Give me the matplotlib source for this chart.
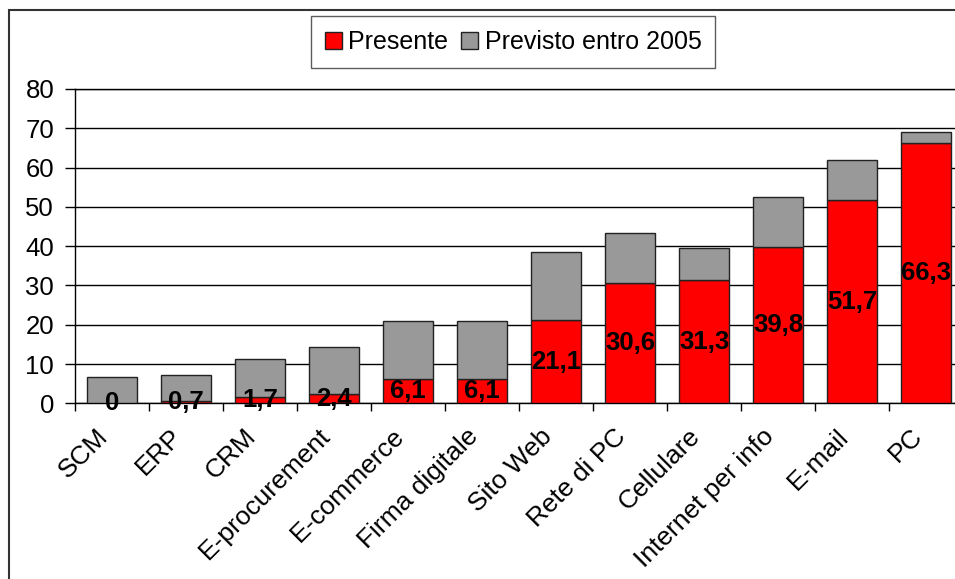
import matplotlib.pyplot as plt
import numpy as np
from matplotlib.patches import Rectangle
from matplotlib.transforms import ScaledTranslation

plt.rcParams['font.family'] = ['Liberation Sans', 'DejaVu Sans']

# dati
categorie = ["SCM", "ERP", "CRM", "E-procurement", "E-commerce", "Firma digitale",
             "Sito Web", "Rete di PC", "Cellulare", "Internet per info", "E-mail", "PC"]
presente = [0, 0.7, 1.7, 2.4, 6.1, 6.1, 21.1, 30.6, 31.3, 39.8, 51.7, 66.3]
previsto = [6.6, 6.5, 9.7, 12.0, 14.9, 14.9, 17.4, 12.7, 8.3, 12.6, 10.3, 2.8]
etichette = ["0", "0,7", "1,7", "2,4", "6,1", "6,1", "21,1", "30,6", "31,3", "39,8", "51,7", "66,3"]

fig = plt.figure(figsize=(9.55, 5.79), dpi=100)
# bordo esterno del grafico
fig.patches.append(Rectangle((9 / 955, -0.1), 1.2, (579 - 10) / 579 + 0.1,
                             transform=fig.transFigure, fill=False,
                             edgecolor='#333333', linewidth=1.5))

ax = fig.add_axes([75 / 955, 175.7 / 579, 888 / 955, 314.3 / 579])
x = np.arange(len(categorie))
w = 0.68
ax.bar(x, presente, w, color='#ff0000', edgecolor='#222222', linewidth=1, label='Presente', zorder=3)
ax.bar(x, previsto, w, bottom=presente, color='#999999', edgecolor='#222222', linewidth=1,
       label='Previsto entro 2005', zorder=3)

for i in range(len(x)):
    ax.text(x[i], presente[i] / 2, etichette[i], ha='center', va='center',
            fontsize=18.5, fontweight='bold', color='black', zorder=4)

ax.set_xlim(-0.5, len(x) - 0.5)
ax.set_ylim(0, 80)
ax.set_yticks(range(0, 81, 10))
ax.yaxis.grid(True, color='black', linewidth=1)
ax.set_axisbelow(True)
ax.tick_params(axis='y', labelsize=18.5, length=7, width=1, pad=8, direction='out')

ax.set_xticks(x)
ax.set_xticklabels(categorie, rotation=45, ha='right', va='top', rotation_mode='anchor',
                   fontsize=19)
ax.set_xticks(np.arange(-0.5, len(x), 1), minor=True)
ax.tick_params(axis='x', which='major', length=0, pad=15)
ax.tick_params(axis='x', which='minor', length=6, width=1, direction='out')
sposta = ScaledTranslation(-0.16, 0, fig.dpi_scale_trans)
for lbl in ax.get_xticklabels():
    lbl.set_transform(lbl.get_transform() + sposta)

ax.spines['right'].set_visible(False)
for s in ['top', 'left', 'bottom']:
    ax.spines[s].set_linewidth(1)

leg = fig.legend(loc='center', bbox_to_anchor=(513 / 955, 1 - 42 / 579), ncol=2,
                 fontsize=18, frameon=True, fancybox=False, edgecolor='#333333',
                 handlelength=0.7, handleheight=0.7, handletextpad=0.25,
                 columnspacing=0.5, borderpad=0.55)
leg.get_frame().set_linewidth(1)

fig.savefig('out.png', dpi=100)
